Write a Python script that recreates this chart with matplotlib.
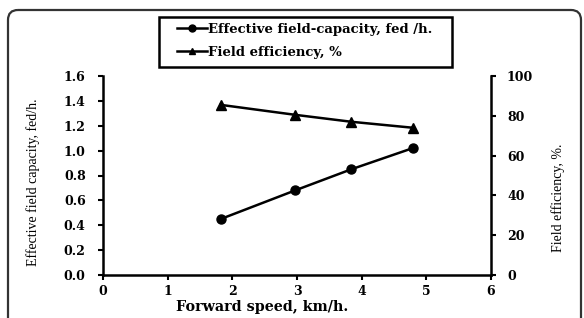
import matplotlib
matplotlib.use("Agg")
import matplotlib.pyplot as plt
from matplotlib.patches import FancyBboxPatch, Rectangle
from matplotlib.lines import Line2D

speed = [1.82, 2.97, 3.84, 4.79]
capacity = [0.45, 0.68, 0.85, 1.02]
efficiency = [85.5, 80.5, 77.0, 74.0]
x_ticks = [0, 1, 2, 3, 4, 5, 6]
left_ticks = [0.0, 0.2, 0.4, 0.6, 0.8, 1.0, 1.2, 1.4, 1.6]
right_ticks = [0, 20, 40, 60, 80, 100]

W, H = 584, 318
fig = plt.figure(figsize=(W / 100, H / 100), dpi=100)

# outer rounded frame and legend box
bg = fig.add_axes([0, 0, 1, 1])
bg.set_xlim(0, W)
bg.set_ylim(H, 0)
bg.axis("off")
bg.add_patch(FancyBboxPatch((8, 10), 573, 330, boxstyle="round,pad=0,rounding_size=10",
                            fill=False, edgecolor="#333333", linewidth=1.6))
bg.add_patch(Rectangle((159, 17), 293, 50, fill=False, edgecolor="black", linewidth=1.8))

serif = "Liberation Serif"
bold = "DejaVu Serif"
L, R, T, B = 103, 491, 76, 275
ax = fig.add_axes([L / W, (H - B) / H, (R - L) / W, (B - T) / H])
ax2 = ax.twinx()

ax.plot(speed, capacity, color="black", lw=1.8, marker="o", ms=6.5, zorder=3)
ax2.plot(speed, efficiency, color="black", lw=1.8, marker="^", ms=6.5, zorder=3)

ax.set_xlim(0, 6)
ax.set_ylim(0, 1.6)
ax2.set_ylim(0, 100)
ax.set_xticks(x_ticks)
ax.set_xticklabels([str(v) for v in x_ticks])
ax.set_yticks(left_ticks)
ax.set_yticklabels([f"{v:.1f}" for v in left_ticks])
ax2.set_yticks(right_ticks)
ax2.set_yticklabels([str(v) for v in right_ticks])

for a in (ax, ax2):
    a.spines["top"].set_visible(False)
    for s in ("left", "right", "bottom"):
        a.spines[s].set_linewidth(1.8)
    a.tick_params(direction="out", length=3.5, width=1.5, labelsize=9)
    for lab in a.get_xticklabels() + a.get_yticklabels():
        lab.set_fontfamily(bold)
        lab.set_fontweight("bold")
ax.spines["right"].set_visible(False)
ax2.spines["left"].set_visible(False)
ax2.spines["bottom"].set_visible(False)
ax.tick_params(axis="y", pad=9)
ax2.tick_params(axis="y", pad=8)
ax.tick_params(axis="x", pad=4)

fig.text(33 / W, 1 - 182 / H, "Effective field capacity, fed/h.", rotation=90,
         ha="center", va="center", fontfamily=serif, fontsize=10)
fig.text(558 / W, 1 - 198 / H, "Field efficiency, %.", rotation=90,
         ha="center", va="center", fontfamily=serif, fontsize=10)
fig.text(262 / W, 1 - 307 / H, "Forward speed, km/h.", ha="center", va="center",
         fontfamily=bold, fontweight="bold", fontsize=10.3)

handles = [Line2D([], [], color="black", lw=1.8, marker="o", ms=5),
           Line2D([], [], color="black", lw=1.8, marker="^", ms=5)]
labels = ["Effective field-capacity, fed /h.", "Field efficiency, %"]
leg = fig.legend(handles, labels, loc="upper left", bbox_to_anchor=(177 / W, 1 - 23 / H),
                 bbox_transform=fig.transFigure, borderaxespad=0, frameon=False,
                 handlelength=2.3, handletextpad=0.05, borderpad=0, labelspacing=0.74,
                 prop={"family": bold, "weight": "bold", "size": 9.5})

fig.savefig("out.png", dpi=100)
